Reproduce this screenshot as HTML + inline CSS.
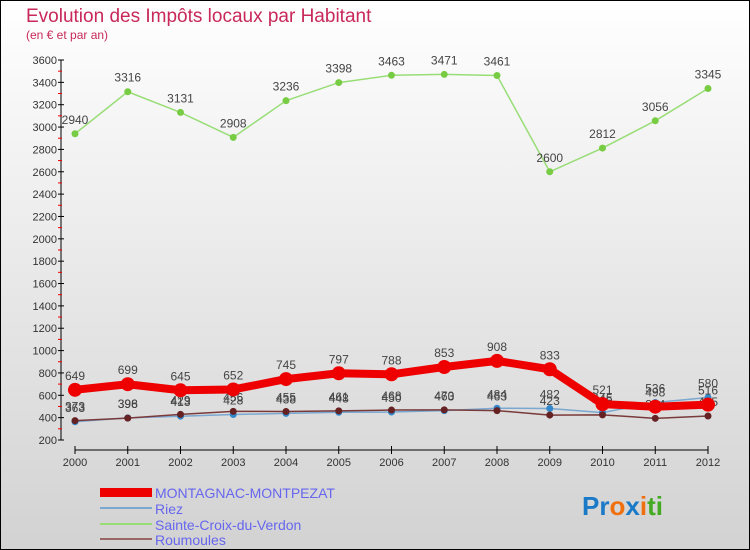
<!DOCTYPE html>
<html><head><meta charset="utf-8"><style>
body{margin:0;}
svg{display:block;font-family:"Liberation Sans",sans-serif;}
</style></head><body>
<svg id="chart" width="750" height="550">
<defs><linearGradient id="bg" x1="0" y1="0" x2="0" y2="1"><stop offset="0" stop-color="#ffffff"/><stop offset="1" stop-color="#d2d2d2"/></linearGradient></defs>
<rect x="0.5" y="0.5" width="749" height="549" fill="url(#bg)" stroke="#000"/>
<text x="26" y="22" font-size="19" fill="#c8285a">Evolution des Impôts locaux par Habitant</text>
<text x="26" y="39" font-size="12" fill="#c8285a">(en € et par an)</text>
<g id="axes"></g><g id="series"></g>
<g>
<rect x="100" y="488" width="52" height="9" fill="#e00"/>
<text x="155" y="498" font-size="14" fill="#6666ee">MONTAGNAC-MONTPEZAT</text>
<rect x="100" y="507" width="52" height="2" fill="#7aa8d0"/>
<text x="155" y="514" font-size="14" fill="#6666ee">Riez</text>
<rect x="100" y="523" width="52" height="2" fill="#99dd77"/>
<text x="155" y="530" font-size="14" fill="#6666ee">Sainte-Croix-du-Verdon</text>
<rect x="100" y="538" width="52" height="2" fill="#996666"/>
<text x="155" y="545" font-size="14" fill="#6666ee">Roumoules</text>
</g>
<text x="582" y="515" font-size="26" font-weight="bold"><tspan fill="#1a7ac8">Pr</tspan><tspan fill="#f07010">o</tspan><tspan fill="#1a7ac8">x</tspan><tspan fill="#f07010">i</tspan><tspan fill="#44aa22">ti</tspan></text>
</svg>
<script>
const years=[2000,2001,2002,2003,2004,2005,2006,2007,2008,2009,2010,2011,2012];
const yTicks=[200,400,600,800,1000,1200,1400,1600,1800,2000,2200,2400,2600,2800,3000,3200,3400,3600];
const montagnac=[649,699,645,652,745,797,788,853,908,833,521,498,516];
const riez=[363,398,413,428,438,448,450,463,484,482,445,536,580];
const sainteCroix=[2940,3316,3131,2908,3236,3398,3463,3471,3461,2600,2812,3056,3345];
const roumoules=[373,396,429,456,455,461,468,470,463,423,425,394,415];
const NS='http://www.w3.org/2000/svg';
const X=i=>75+i*(633/12);
const Y=v=>440-(v-200)*(380/3400);
function mk(t,a,p){const e=document.createElementNS(NS,t);for(const k in a)e.setAttribute(k,a[k]);p.appendChild(e);return e;}
const ax=document.getElementById('axes');
mk('line',{x1:61,y1:60,x2:61,y2:440,stroke:'#000'},ax);
mk('line',{x1:75,y1:450,x2:708,y2:450,stroke:'#000'},ax);
yTicks.forEach(v=>{
 const y=Y(v);
 const t=mk('line',{x1:58,y1:y,x2:64,y2:y,stroke:'#000'},ax);
 
 
 const l=mk('text',{x:57,y:y+4,'font-size':11,'text-anchor':'end',fill:'#333'},ax);
 l.textContent=v;
 
 
 if(v<3600){const m=mk('line',{x1:58,y1:y-11.2,x2:62,y2:y-11.2,stroke:'#e00'},ax);}
});
years.forEach((yr,i)=>{
 const x=X(i);
 mk('line',{x1:x,y1:446,x2:x,y2:454,stroke:'#000'},ax);
 const l=mk('text',{x:x,y:466,'font-size':11,'text-anchor':'middle',fill:'#333'},ax);
 l.textContent=yr;
 
 
});
const sg=document.getElementById('series');
function draw(vals,color,w,r,mcol,name,lab){
 const g=mk('g',{},sg);
 
 
 mk('polyline',{points:vals.map((v,i)=>X(i)+','+Y(v)).join(' '),fill:'none',stroke:color,'stroke-width':w,'stroke-linejoin':'round'},g);
 vals.forEach((v,i)=>{
  const c=mk('circle',{cx:X(i),cy:Y(v),r:r,fill:mcol},g);
  
  
  const t=mk('text',{x:X(i),y:Y(v)-10,'font-size':12,'text-anchor':'middle',fill:'#444'},g);
  t.textContent=v;
  
  
 });
}
draw(sainteCroix,'#99dd77',1.5,3.5,'#77cc44','sainte-croix-series');
draw(riez,'#7aa8d0',1.5,3.5,'#3388cc','riez-series');
draw(roumoules,'#7a3a3a',1.5,3.5,'#662222','roumoules-series');
draw(montagnac,'#ee0000',8,7,'#ee0000','montagnac-series');
</script>
</body></html>
